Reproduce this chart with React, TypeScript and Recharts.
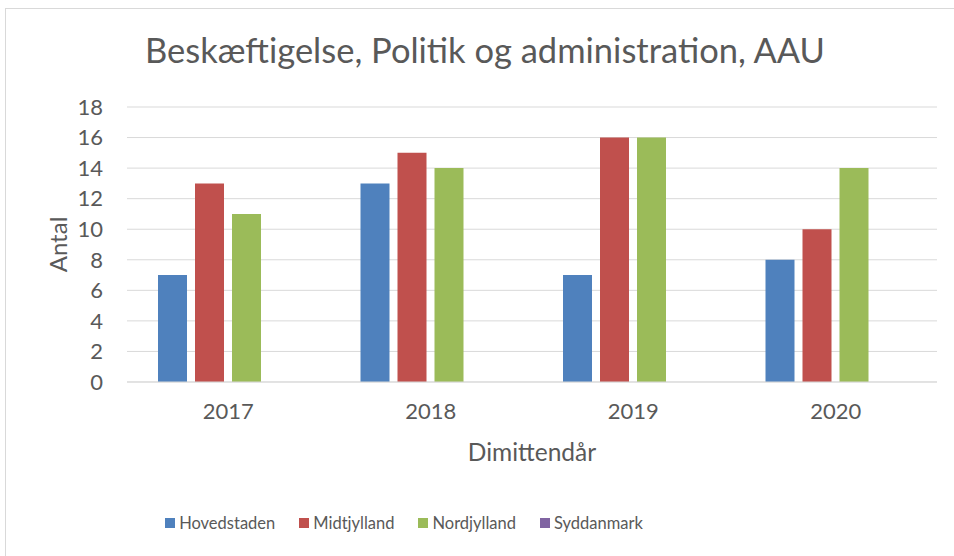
import { BarChart, Bar, XAxis, YAxis, CartesianGrid, Legend } from "recharts";

const years = ["2017", "2018", "2019", "2020"];
const hovedstaden = [7, 13, 7, 8];
const midtjylland = [13, 15, 16, 10];
const nordjylland = [11, 14, 16, 14];
const syddanmark = [0, 0, 0, 0];
const yTicks = [0, 2, 4, 6, 8, 10, 12, 14, 16, 18];

const series = [
  { name: "Hovedstaden", values: hovedstaden, color: "#4F81BD" },
  { name: "Midtjylland", values: midtjylland, color: "#C0504D" },
  { name: "Nordjylland", values: nordjylland, color: "#9BBB59" },
  { name: "Syddanmark", values: syddanmark, color: "#8064A2" },
];

const data = years.map((year, i) => {
  const row: Record<string, string | number> = { year };
  series.forEach((s) => {
    row[s.name] = s.values[i];
  });
  return row;
});

const FONT = "Lato, 'Liberation Sans', sans-serif";
const TEXT = "#595959";

const LegendContent = ({ payload }: any) => (
  <div style={{ width: 808, height: 40, display: "flex", justifyContent: "center", alignItems: "center", gap: 24, marginTop: -3 }}>
    {(payload || []).map((entry: any) => (
      <div key={entry.value} style={{ display: "flex", alignItems: "center", gap: 4 }}>
        <span style={{ width: 10, height: 10, background: entry.color, display: "inline-block" }} />
        <span style={{ fontFamily: FONT, fontSize: 16.5, color: TEXT }}>{entry.value}</span>
      </div>
    ))}
  </div>
);

export default function App() {
  return (
    <div style={{ position: "absolute", left: 0, top: 0, width: 954, height: 556, background: "#fff", overflow: "hidden" }}>
      <div style={{ position: "absolute", left: 5, top: 8, width: 980, height: 600, border: "1px solid #D9D9D9" }} />
      <svg width={954} height={556} style={{ position: "absolute", left: 0, top: 0 }}>
        <text x={485} y={63} textAnchor="middle" fontFamily={FONT} fontSize={34.5} fill={TEXT}>
          Beskæftigelse, Politik og administration, AAU
        </text>
      </svg>
      <div style={{ position: "absolute", left: 0, top: 0 }}>
        <BarChart
          width={954}
          height={556}
          data={data}
          margin={{ top: 107, right: 17, bottom: 10, left: 0 }}
          barSize={29}
          barGap={8}
        >
          <CartesianGrid vertical={false} stroke="#D9D9D9" strokeWidth={1} />
          <XAxis
            dataKey="year"
            height={124}
            axisLine={{ stroke: "#D9D9D9" }}
            tickLine={false}
            tickSize={6}
            tickMargin={15}
            tick={{ fill: TEXT, fontFamily: FONT, fontSize: 22 }}
            label={{
              content: ({ viewBox }: any) => (
                <text
                  x={viewBox.x + viewBox.width / 2}
                  y={viewBox.y + 79}
                  textAnchor="middle"
                  fontFamily={FONT}
                  fontSize={24.5}
                  fill={TEXT}
                >
                  Dimittendår
                </text>
              ),
            }}
          />
          <YAxis
            width={127}
            domain={[0, 18]}
            ticks={yTicks}
            interval={0}
            axisLine={false}
            tickLine={false}
            tickSize={6}
            tickMargin={18}
            tick={{ fill: TEXT, fontFamily: FONT, fontSize: 22 }}
            label={{
              content: ({ viewBox }: any) => {
                const cx = viewBox.x + 57;
                const cy = viewBox.y + viewBox.height / 2;
                return (
                  <text
                    x={cx}
                    y={cy}
                    transform={`rotate(-90, ${cx}, ${cy})`}
                    textAnchor="middle"
                    dominantBaseline="central"
                    fontFamily={FONT}
                    fontSize={24}
                    fill={TEXT}
                  >
                    Antal
                  </text>
                );
              },
            }}
          />
          <Legend verticalAlign="bottom" height={40} content={<LegendContent />} />
          {series.map((s) => (
            <Bar key={s.name} dataKey={s.name} fill={s.color} isAnimationActive={false} />
          ))}
        </BarChart>
      </div>
    </div>
  );
}
